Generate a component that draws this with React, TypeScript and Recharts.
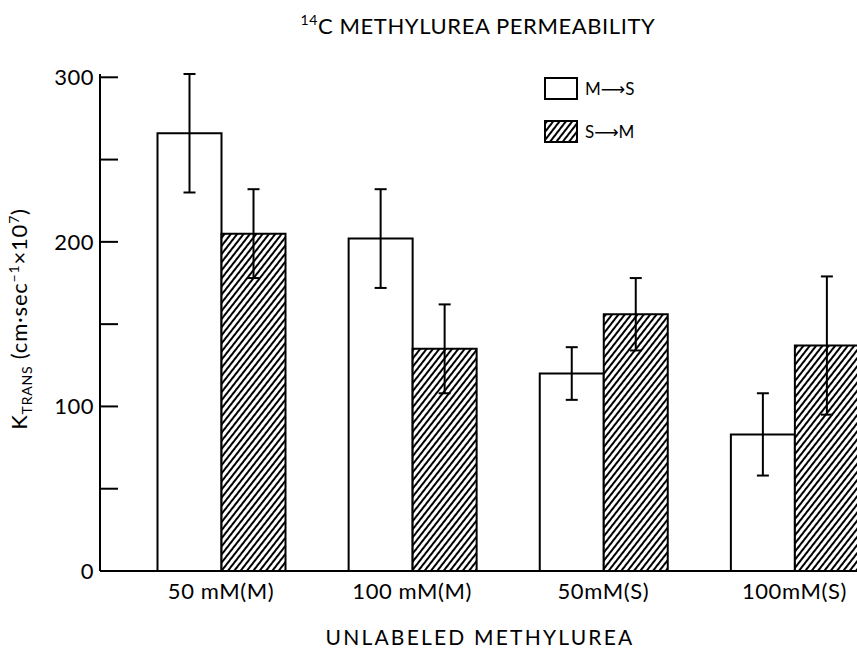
import { BarChart, Bar, XAxis, YAxis, ErrorBar, Legend } from 'recharts';

const CATEGORIES = ['50 mM(M)', '100 mM(M)', '50mM(S)', '100mM(S)'];
const M_TO_S = [266, 202, 120, 83];
const M_TO_S_ERR = [36, 30, 16, 25];
const S_TO_M = [205, 135, 156, 137];
const S_TO_M_ERR = [27, 27, 22, 42];
const Y_TICKS = [0, 50, 100, 150, 200, 250, 300];

const FONT = 'Lato, "DejaVu Sans", sans-serif';
const WEIGHT = 400;
const AXIS_X = 100;

const data = CATEGORIES.map((name, i) => ({
  name,
  ms: M_TO_S[i],
  msErr: M_TO_S_ERR[i],
  sm: S_TO_M[i],
  smErr: S_TO_M_ERR[i],
}));

// inward tick marks, labels only on the hundreds
function YTick({ y, payload }: any) {
  return (
    <g>
      <line x1={AXIS_X} x2={AXIS_X + 18} y1={y} y2={y} stroke="#000" strokeWidth={2} />
      {payload.value % 100 === 0 && (
        <text
          x={AXIS_X - 6}
          y={y}
          dy="0.36em"
          textAnchor="end"
          fontSize={22}
          fontWeight={WEIGHT}
          letterSpacing={0.5}
          fontFamily={FONT}
          fill="#000"
        >
          {payload.value}
        </text>
      )}
    </g>
  );
}

function LegendBox() {
  return (
    <svg width={130} height={72}>
      <rect x={2} y={2} width={32} height={21} fill="#fff" stroke="#000" strokeWidth={2} />
      <text x={42} y={19} fontSize={17} fontWeight={WEIGHT} fontFamily={FONT} fill="#000">M⟶S</text>
      <rect x={2} y={45} width={32} height={21} fill="url(#hatch)" stroke="#000" strokeWidth={2} />
      <text x={42} y={62} fontSize={17} fontWeight={WEIGHT} fontFamily={FONT} fill="#000">S⟶M</text>
    </svg>
  );
}

export default function App() {
  return (
    <div
      style={{
        position: 'absolute',
        left: 0,
        top: 0,
        width: 857,
        height: 652,
        overflow: 'hidden',
        background: '#fff',
        fontFamily: FONT,
      }}
    >
      <svg width={0} height={0} style={{ position: 'absolute' }}>
        <defs>
          <pattern id="hatch" patternUnits="userSpaceOnUse" width={5} height={10} patternTransform="rotate(38)">
            <rect width={5} height={10} fill="#fff" />
            <line x1={1} y1={0} x2={1} y2={10} stroke="#000" strokeWidth={2} />
          </pattern>
        </defs>
      </svg>
      <BarChart
        width={890}
        height={652}
        data={data}
        barGap={0}
        margin={{ top: 74, right: 0, bottom: 51, left: 0 }}
      >
        <XAxis
          dataKey="name"
          height={30}
          padding={{ left: 25.5, right: 0 }}
          axisLine={{ stroke: '#000', strokeWidth: 2 }}
          tickLine={false}
          tickSize={0}
          tickMargin={12}
          tick={{ fontSize: 22, fontWeight: WEIGHT, letterSpacing: 0.6, fill: '#000', fontFamily: FONT }}
          interval={0}
        />
        <YAxis
          width={100}
          domain={[0, 300]}
          ticks={Y_TICKS}
          interval={0}
          axisLine={{ stroke: '#000', strokeWidth: 2 }}
          tickLine={false}
          tickSize={0}
          tick={<YTick />}
        />
        <Legend
          layout="horizontal"
          verticalAlign="middle"
          align="center"
          content={() => <LegendBox />}
          wrapperStyle={{ position: 'absolute', top: 76, left: 543, width: 130, height: 72 }}
        />
        <Bar dataKey="ms" name="M→S" fill="#fff" stroke="#000" strokeWidth={2} barSize={64} isAnimationActive={false}>
          <ErrorBar dataKey="msErr" width={6} stroke="#000" strokeWidth={2} />
        </Bar>
        <Bar dataKey="sm" name="S→M" fill="url(#hatch)" stroke="#000" strokeWidth={2} barSize={64} isAnimationActive={false}>
          <ErrorBar dataKey="smErr" width={6} stroke="#000" strokeWidth={2} />
        </Bar>
      </BarChart>
      <svg width={857} height={652} style={{ position: 'absolute', left: 0, top: 0, pointerEvents: 'none' }}>
        <text x={478} y={34} textAnchor="middle" fontSize={22} fontWeight={WEIGHT} letterSpacing={0.6} fontFamily={FONT} fill="#000">
          <tspan fontSize={14} dy={-9}>14</tspan>
          <tspan dy={9}>C METHYLUREA PERMEABILITY</tspan>
        </text>
        <text x={480} y={645} textAnchor="middle" fontSize={21} fontWeight={WEIGHT} letterSpacing={2.2} fontFamily={FONT} fill="#000">
          UNLABELED METHYLUREA
        </text>
        <text
          transform="translate(27,319) rotate(-90)"
          textAnchor="middle"
          fontSize={22}
          fontWeight={WEIGHT}
          letterSpacing={0.8}
          fontFamily={FONT}
          fill="#000"
        >
          K<tspan fontSize={14} dy={5}>TRANS</tspan>
          <tspan dy={-5}> (cm·sec</tspan>
          <tspan fontSize={14} dy={-8}>−1</tspan>
          <tspan dy={8}>×10</tspan>
          <tspan fontSize={14} dy={-8}>7</tspan>
          <tspan dy={8}>)</tspan>
        </text>
      </svg>
    </div>
  );
}
